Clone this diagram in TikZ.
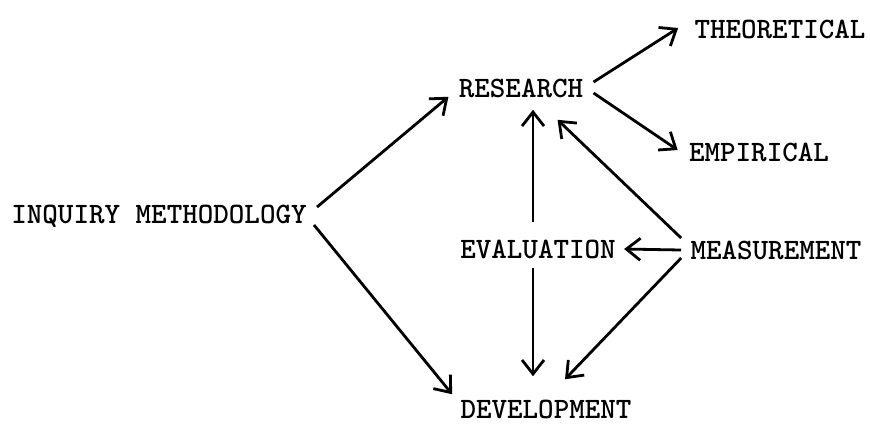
\documentclass[tikz,border=0pt]{standalone}
\usepackage{xcolor}
\usetikzlibrary{arrows.meta, positioning, calc}

\begin{document}
\begin{tikzpicture}[x=0.5pt, y=-0.5pt,
    every node/.style={inner sep=0pt, font=\ttfamily\bfseries\fontsize{14.8}{16}\selectfont},
    arr/.style={line width=1.4pt, -{Straight Barb[length=7pt, width=11pt, line width=1.4pt]}}]
    \useasboundingbox[fill=white] (0,0) rectangle (870,425);
    % terms
    \node (im)   at (159,216) {INQUIRY METHODOLOGY};
    \node (res)  at (521,88)  {RESEARCH};
    \node (theo) at (780,29)  {THEORETICAL};
    \node (emp)  at (759,152) {EMPIRICAL};
    \node (eval) at (538,249) {EVALUATION};
    \node (meas) at (776,250) {MEASUREMENT};
    \node (dev)  at (546,409) {DEVELOPMENT};
    % links
    \draw[arr] ($(im.east)+(10,-9)$) -- ($(res.south west)+(-10,-1)$);
    \draw[arr] ($(im.east)+(7,9)$) -- ($(dev.north west)+(-8,-5)$);
    \draw[arr] ($(res.east)+(10,-6)$) -- ($(theo.west)+(-16,-1)$);
    \draw[arr] ($(res.east)+(10,5)$) -- ($(emp.west)+(-11,-2)$);
    \draw[arr] ($(eval.north)+(-5,-17)$) -- ($(res.south)+(12,12)$);
    \draw[arr] ($(eval.south)+(-5,9)$) -- ($(dev.north)+(-13,-23)$);
    \draw[arr] ($(meas.west)+(-9,0)$) -- ($(eval.east)+(8,0)$);
    \draw[arr] ($(meas.west)+(-9,-12)$) -- ($(res.south east)+(-26,22)$);
    \draw[arr] ($(meas.west)+(-9,8)$) -- ($(dev.north)+(19,-20)$);
\end{tikzpicture}
\end{document}
